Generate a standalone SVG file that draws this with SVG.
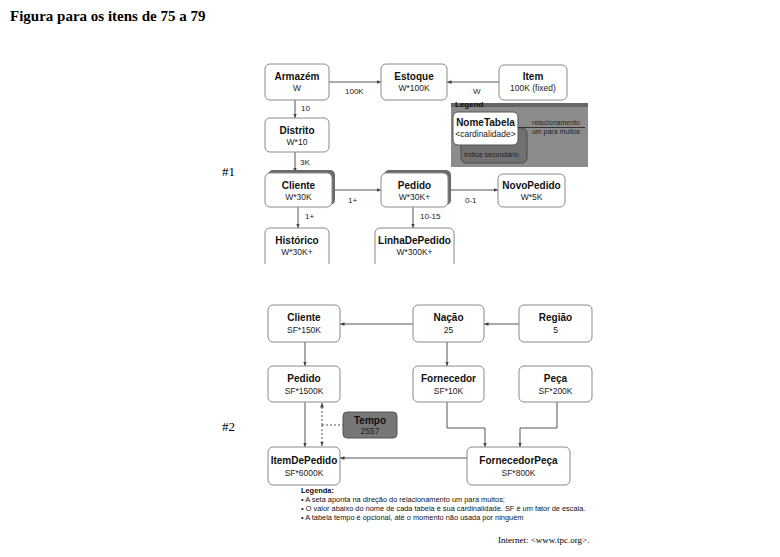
<svg xmlns="http://www.w3.org/2000/svg" width="780" height="557" viewBox="0 0 780 557">
<style>
.bg{fill:#fff}
.box{fill:#fff;stroke:#8a8a8a;stroke-width:1}
.shadow{fill:#6a6a6a}
.nm{font-family:"Liberation Sans",Arial,sans-serif;font-size:10px;font-weight:bold;fill:#111;text-anchor:middle}
.cd{font-family:"Liberation Sans",Arial,sans-serif;font-size:8.5px;fill:#222;text-anchor:middle}
.lb{font-family:"Liberation Sans",Arial,sans-serif;font-size:8px;fill:#222}
.ln{stroke:#555;stroke-width:1;fill:none}
.dash{stroke:#555;stroke-width:1;fill:none;stroke-dasharray:2,2}
.serif{font-family:"Liberation Serif","Times New Roman",serif;fill:#000}
.lg{font-family:"Liberation Sans",Arial,sans-serif;font-size:7.4px;fill:#111}
</style>
<defs>
<marker id="ah" viewBox="0 0 6 6" refX="6" refY="3" markerWidth="4.5" markerHeight="4.5" orient="auto">
<path d="M0,0.5 L6,3 L0,5.5 z" fill="#444"/>
</marker>
<clipPath id="clip1"><rect x="0" y="0" width="780" height="264"/></clipPath>
</defs>
<rect class="bg" x="0" y="0" width="780" height="557"/>
<text class="serif" x="10" y="21" font-size="15" font-weight="bold">Figura para os itens de 75 a 79</text>
<text class="serif" x="222" y="176" font-size="13">#1</text>
<text class="serif" x="222" y="431" font-size="13">#2</text>

<g id="connectors">
<line class="ln" x1="329" y1="82" x2="381" y2="82" marker-end="url(#ah)"/>
<line class="ln" x1="499" y1="82" x2="447" y2="82" marker-end="url(#ah)"/>
<line class="ln" x1="295" y1="100" x2="295" y2="118" marker-end="url(#ah)"/>
<line class="ln" x1="295" y1="152" x2="295" y2="172" marker-end="url(#ah)"/>
<line class="ln" x1="332" y1="190" x2="381" y2="190" marker-end="url(#ah)"/>
<line class="ln" x1="448" y1="190" x2="498" y2="190" marker-end="url(#ah)"/>
<line class="ln" x1="298" y1="207" x2="298" y2="228" marker-end="url(#ah)"/>
<line class="ln" x1="413" y1="207" x2="413" y2="228" marker-end="url(#ah)"/>
<text class="lb" x="301" y="111">10</text>
<text class="lb" x="345" y="94">100K</text>
<text class="lb" x="473" y="94">W</text>
<text class="lb" x="300" y="165">3K</text>
<text class="lb" x="348" y="203">1+</text>
<text class="lb" x="465" y="203">0-1</text>
<text class="lb" x="305" y="219">1+</text>
<text class="lb" x="420" y="219">10-15</text>

<line class="ln" x1="413" y1="324" x2="340" y2="324" marker-end="url(#ah)"/>
<line class="ln" x1="519" y1="324" x2="484" y2="324" marker-end="url(#ah)"/>
<line class="ln" x1="447" y1="342" x2="447" y2="366" marker-end="url(#ah)"/>
<line class="ln" x1="305" y1="342" x2="305" y2="366" marker-end="url(#ah)"/>
<line class="ln" x1="305" y1="402" x2="305" y2="447" marker-end="url(#ah)"/>
<line class="dash" x1="322" y1="425" x2="322" y2="403" marker-end="url(#ah)"/>
<line class="dash" x1="322" y1="425" x2="322" y2="446" marker-end="url(#ah)"/>
<line class="dash" x1="322" y1="425" x2="343" y2="425"/>
<polyline class="ln" points="447,402 447,428 485,428 485,447" marker-end="url(#ah)"/>
<polyline class="ln" points="557,402 557,428 520,428 520,447" marker-end="url(#ah)"/>
<line class="ln" x1="467" y1="458" x2="340" y2="458" marker-end="url(#ah)"/>
</g>

<g id="legend1">
<rect x="451" y="104" width="137" height="63" fill="#8c8c8c"/>
<rect x="451" y="103" width="137" height="4" fill="#666"/>
<text x="455" y="107" font-family="Liberation Sans,Arial,sans-serif" font-size="8" font-weight="bold" fill="#111">Legend</text>
<rect x="461" y="128" width="66" height="35" rx="5" fill="#717171" stroke="#4a4a4a"/>
<text x="464" y="157" font-family="Liberation Sans,Arial,sans-serif" font-size="7" fill="#222">índice secundário</text>
<rect x="453" y="112" width="65" height="33" rx="5" fill="#fff" stroke="#555"/>
<text class="nm" x="485.5" y="126">NomeTabela</text>
<text class="cd" x="485.5" y="137" font-size="8">&lt;cardinalidade&gt;</text>
<line x1="518" y1="127.5" x2="585" y2="127.5" stroke="#333"/>
<text x="556" y="125" font-family="Liberation Sans,Arial,sans-serif" font-size="7" fill="#222" text-anchor="middle">relacionamento</text>
<text x="556" y="134" font-family="Liberation Sans,Arial,sans-serif" font-size="7" fill="#222" text-anchor="middle">um para muitos</text>
</g>

<g id="armazem"><rect class="box" x="265" y="64" width="64" height="36" rx="5"/><text class="nm" x="297" y="80">Armazém</text><text class="cd" x="297" y="91">W</text></g>
<g id="estoque"><rect class="box" x="381" y="64" width="66" height="36" rx="5"/><text class="nm" x="414" y="80">Estoque</text><text class="cd" x="414" y="91">W*100K</text></g>
<g id="item"><rect class="box" x="499" y="65" width="68" height="35" rx="5"/><text class="nm" x="533" y="80">Item</text><text class="cd" x="533" y="91">100K (fixed)</text></g>
<g id="distrito"><rect class="box" x="265" y="118" width="64" height="34" rx="5"/><text class="nm" x="297" y="134">Distrito</text><text class="cd" x="297" y="145">W*10</text></g>
<g id="cliente1"><rect class="shadow" x="268" y="170" width="67" height="35" rx="5"/><rect class="box" x="265" y="173" width="67" height="34" rx="5"/><text class="nm" x="298.5" y="189">Cliente</text><text class="cd" x="298.5" y="200">W*30K</text></g>
<g id="pedido1"><rect class="shadow" x="384" y="170" width="67" height="35" rx="5"/><rect class="box" x="381" y="173" width="67" height="34" rx="5"/><text class="nm" x="414.5" y="189">Pedido</text><text class="cd" x="414.5" y="200">W*30K+</text></g>
<g id="novopedido"><rect class="box" x="498" y="174" width="67" height="33" rx="5"/><text class="nm" x="531.5" y="189">NovoPedido</text><text class="cd" x="531.5" y="200">W*5K</text></g>
<g clip-path="url(#clip1)">
<g id="historico"><rect class="box" x="265" y="228" width="64" height="44" rx="5"/><text class="nm" x="297" y="244">Histórico</text><text class="cd" x="297" y="255">W*30K+</text></g>
<g id="linhadepedido"><rect class="box" x="375" y="228" width="79" height="44" rx="5"/><text class="nm" x="414.5" y="244">LinhaDePedido</text><text class="cd" x="414.5" y="255">W*300K+</text></g>
</g>

<g id="cliente2"><rect class="box" x="268" y="305" width="72" height="37" rx="5"/><text class="nm" x="304" y="321">Cliente</text><text class="cd" x="304" y="333">SF*150K</text></g>
<g id="nacao"><rect class="box" x="413" y="305" width="71" height="37" rx="5"/><text class="nm" x="448.5" y="321">Nação</text><text class="cd" x="448.5" y="333">25</text></g>
<g id="regiao"><rect class="box" x="519" y="305" width="73" height="37" rx="5"/><text class="nm" x="555.5" y="321">Região</text><text class="cd" x="555.5" y="333">5</text></g>
<g id="pedido2"><rect class="box" x="268" y="366" width="72" height="36" rx="5"/><text class="nm" x="304" y="382">Pedido</text><text class="cd" x="304" y="394">SF*1500K</text></g>
<g id="fornecedor"><rect class="box" x="413" y="366" width="71" height="36" rx="5"/><text class="nm" x="448.5" y="382">Fornecedor</text><text class="cd" x="448.5" y="394">SF*10K</text></g>
<g id="peca"><rect class="box" x="519" y="366" width="73" height="36" rx="5"/><text class="nm" x="555.5" y="382">Peça</text><text class="cd" x="555.5" y="394">SF*200K</text></g>
<g id="tempo"><rect x="343" y="412" width="54" height="26" rx="4" fill="#777" stroke="#555"/><text class="nm" x="370" y="424" fill="#222">Tempo</text><text class="cd" x="370" y="434" fill="#222">2557</text></g>
<g id="itemdepedido"><rect class="box" x="268" y="447" width="72" height="38" rx="5"/><text class="nm" x="304" y="464">ItemDePedido</text><text class="cd" x="304" y="476">SF*6000K</text></g>
<g id="fornecedorpeca"><rect class="box" x="467" y="447" width="103" height="38" rx="5"/><text class="nm" x="518.5" y="464">FornecedorPeça</text><text class="cd" x="518.5" y="476">SF*800K</text></g>

<g id="legenda2">
<text class="lg" x="301" y="493" font-weight="bold">Legenda:</text>
<text class="lg" x="301" y="502">• A seta aponta na direção do relacionamento um para muitos;</text>
<text class="lg" x="301" y="511">• O valor abaixo do nome de cada tabela é sua cardinalidade. SF é um fator de escala.</text>
<text class="lg" x="301" y="520">• A tabela tempo é opcional, até o momento não usada por ninguém</text>
</g>
<text class="serif" x="498" y="543" font-size="9">Internet: &lt;www.tpc.org&gt;.</text>
</svg>
